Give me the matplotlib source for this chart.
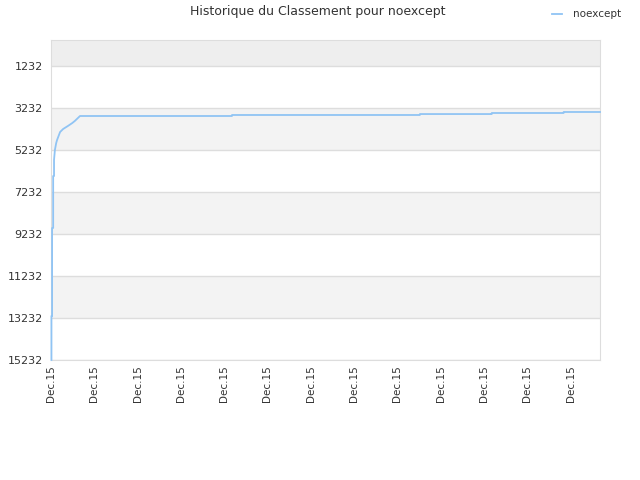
import matplotlib
matplotlib.use("Agg")
import matplotlib.pyplot as plt

# x in tick-interval units (one unit per "Dec.15" tick)
x_vals = [0.01, 0.01, 0.025, 0.025, 0.05, 0.05, 0.07, 0.07, 0.09, 0.12, 0.14,
          0.21, 0.28, 0.39, 0.49, 0.55, 0.67, 4.18, 4.18, 8.52, 8.52,
          10.18, 10.18, 11.84, 11.84, 12.68]
ranks = [15232, 13137, 13137, 8946, 8946, 6470, 6470, 5700, 5232, 4900, 4756,
         4375, 4232, 4089, 3950, 3850, 3613, 3613, 3565, 3565, 3520,
         3520, 3470, 3470, 3422, 3422]

y_ticks = [1232, 3232, 5232, 7232, 9232, 11232, 13232, 15232]
x_ticks = list(range(13))
x_labels = ["Dec.15"] * 13

fig = plt.figure(figsize=(6.4, 4.8), dpi=100)
ax = fig.add_axes([51/640, 1-360/480, (600-51)/640, (360-40)/480])

ax.plot(x_vals, ranks, color="#90c4f4", lw=1.3, label="noexcept",
        zorder=5, clip_on=False)

ax.set_ylim(15232, -6)
ax.set_xlim(0, 12.68)

# alternating bands
bounds = [-6] + y_ticks
for i in range(len(bounds) - 1):
    if i % 2 == 0:
        c = "#eeeeee" if i == 0 else "#f3f3f3"
        ax.axhspan(bounds[i], bounds[i+1], color=c, zorder=0, lw=0)

ax.set_yticks(y_ticks)
ax.set_yticklabels([str(v) for v in y_ticks], fontsize=8, color="#333333")
ax.set_xticks(x_ticks)
ax.set_xticklabels(x_labels, rotation=90, fontsize=7.5, color="#333333")
ax.tick_params(length=0, pad=6)
ax.tick_params(axis='x', pad=4)
ax.yaxis.grid(True, color="#dddddd", lw=1)
ax.set_axisbelow(True)
for s in ax.spines.values():
    s.set_color("#dddddd")

fig.text(0.497, 1-12/480, "Historique du Classement pour noexcept", ha="center",
         va="center", fontsize=9, color="#333333")

leg = fig.legend(loc="upper right", bbox_to_anchor=(0.985, 1.0), frameon=False,
                 fontsize=7.5, handlelength=1.0, handletextpad=1.0)
for t in leg.get_texts():
    t.set_color("#333333")

fig.savefig("out.png", dpi=100, facecolor="white")
